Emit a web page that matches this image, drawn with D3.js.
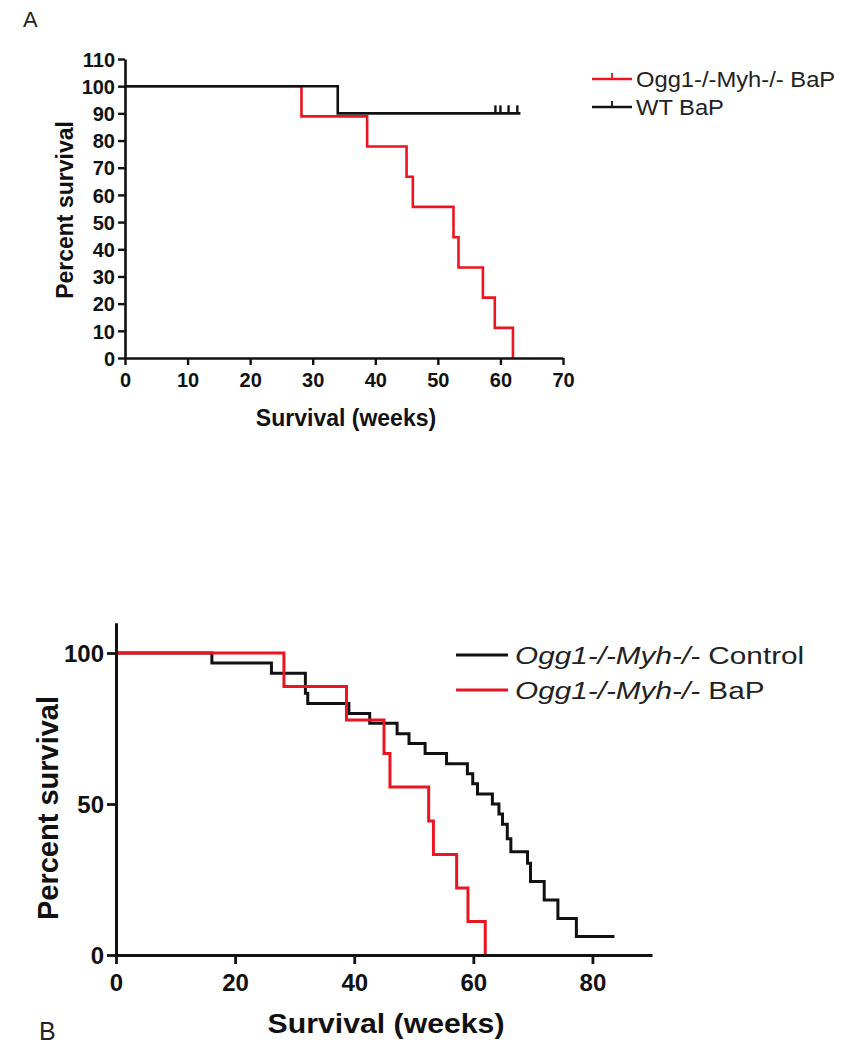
<!DOCTYPE html>
<html>
<head>
<meta charset="utf-8">
<script src="https://cdn.jsdelivr.net/npm/d3@7/dist/d3.min.js"></script>
<style>
html,body{margin:0;padding:0;background:#fff;}
svg{display:block;font-family:"Liberation Sans",Arial,sans-serif;}
</style>
</head>
<body>
<svg id="chart" width="849" height="1050"></svg>
<script>
// ---------- DATA ----------
// Panel A
const aXTicks = [0,10,20,30,40,50,60,70];
const aYTicks = [0,10,20,30,40,50,60,70,80,90,100,110];
// Ogg1-/-Myh-/- BaP : event times (weeks) and survival after event (%)
const bapTimes    = [28.2, 38.7, 45.0, 46.0, 52.5, 53.3, 57.2, 59.1, 62.0];
const bapSurvival = [88.9, 77.8, 66.7, 55.6, 44.4, 33.3, 22.2, 11.1, 0];
// WT BaP
const wtTimes    = [34.0];
const wtSurvival = [90];
const wtEnd      = 63.2;
const wtCensored = [59.2, 60.0, 61.3, 62.7];

// Panel B
const bXTicks = [0,20,40,60,80];
const bYTicks = [0,50,100];
// Ogg1-/-Myh-/- Control
const ctrlTimes    = [16.1, 26.1, 31.8, 32.2, 39.1, 42.6, 47.2, 49.2, 51.9, 55.5, 59.0, 59.9, 60.7, 63.2, 64.3, 64.9, 65.7, 66.3, 69.1, 69.6, 71.9, 74.2, 77.3];
const ctrlSurvival = [96.7, 93.3, 86.7, 83.3, 80.0, 76.7, 73.3, 70.0, 66.7, 63.3, 60.0, 56.7, 53.3, 50.0, 46.7, 43.3, 38.5, 34.2, 30.4, 24.3, 18.2, 12.1, 6.1];
const ctrlEnd      = 83.7;

const legendA = ["Ogg1-/-Myh-/- BaP", "WT BaP"];
const legendBItalic = "Ogg1-/-Myh-/-";
const legendBSuffix = [" Control", " BaP"];

const RED = "#ea1520";
const BLACK = "#111";

// ---------- HELPERS ----------
const svg = d3.select("#chart");
function kmPoints(times, surv, end){
  const pts = [[0,100]];
  times.forEach((t,i)=>pts.push([t, surv[i]]));
  if (end !== undefined) pts.push([end, surv[surv.length-1]]);
  return pts;
}
function survAt(times, surv, t){
  let s = 100;
  times.forEach((tt,i)=>{ if (tt <= t) s = surv[i]; });
  return s;
}

// ---------- PANEL A ----------
{
  const x = d3.scaleLinear().domain([0,70]).range([125,563]);
  const y = d3.scaleLinear().domain([0,110]).range([358,59]);
  const g = svg.append("g");

  g.append("text").attr("x",23).attr("y",27).attr("font-size",22).attr("fill","#222").text("A");

  const line = d3.line().x(d=>x(d[0])).y(d=>y(d[1])).curve(d3.curveStepAfter);

  g.append("path").datum(kmPoints(bapTimes,bapSurvival))
    .attr("d",line).attr("fill","none").attr("stroke",RED).attr("stroke-width",2.6);
  g.append("path").datum(kmPoints(wtTimes,wtSurvival,wtEnd))
    .attr("d",line).attr("fill","none").attr("stroke",BLACK).attr("stroke-width",2.6);
  g.selectAll(".cens").data(wtCensored).enter().append("line")
    .attr("x1",d=>x(d)).attr("x2",d=>x(d))
    .attr("y1",d=>y(survAt(wtTimes,wtSurvival,d)))
    .attr("y2",d=>y(survAt(wtTimes,wtSurvival,d))-8)
    .attr("stroke",BLACK).attr("stroke-width",2.4);

  const xa = g.append("g").attr("transform","translate(0,358)")
    .call(d3.axisBottom(x).tickValues(aXTicks).tickSize(7).tickPadding(8).tickSizeOuter(0));
  const ya = g.append("g").attr("transform","translate(125,0)")
    .call(d3.axisLeft(y).tickValues(aYTicks).tickSize(7).tickPadding(3).tickSizeOuter(0));
  [xa,ya].forEach(a=>{
    a.select(".domain").attr("stroke",BLACK).attr("stroke-width",2.6);
    a.selectAll(".tick line").attr("stroke",BLACK).attr("stroke-width",2.4);
    a.selectAll(".tick text").attr("font-size",20).attr("font-weight","bold").attr("fill","#111")
      .attr("font-family","'Liberation Sans',Arial,sans-serif");
  });
  ya.selectAll(".tick text").attr("dy","0.36em");

  g.append("text").attr("x",346).attr("y",426).attr("text-anchor","middle")
    .attr("font-size",23).attr("font-weight","bold").attr("fill","#111").text("Survival (weeks)");
  g.append("text").attr("transform","translate(73,210) rotate(-90)").attr("text-anchor","middle")
    .attr("font-size",23).attr("font-weight","bold").attr("fill","#111").text("Percent survival");

  // legend
  const cols = [RED, BLACK];
  legendA.forEach((lab,i)=>{
    const yy = 79 + i*28;
    g.append("line").attr("x1",592).attr("x2",632).attr("y1",yy).attr("y2",yy)
      .attr("stroke",cols[i]).attr("stroke-width",2.4);
    g.append("line").attr("x1",612).attr("x2",612).attr("y1",yy).attr("y2",yy-6)
      .attr("stroke",cols[i]).attr("stroke-width",1.8);
    g.append("text").attr("transform",`translate(636,${yy+8}) scale(1.08,1)`)
      .attr("font-size",22).attr("fill","#222").text(lab);
  });
}

// ---------- PANEL B ----------
{
  const x = d3.scaleLinear().domain([0,90]).range([116,652]);
  const y = d3.scaleLinear().domain([0,110]).range([955,622.8]);
  const g = svg.append("g");

  const line = d3.line().x(d=>x(d[0])).y(d=>y(d[1])).curve(d3.curveStepAfter);

  g.append("path").datum(kmPoints(ctrlTimes,ctrlSurvival,ctrlEnd))
    .attr("d",line).attr("fill","none").attr("stroke",BLACK).attr("stroke-width",3);
  g.append("path").datum(kmPoints(bapTimes,bapSurvival))
    .attr("d",line).attr("fill","none").attr("stroke",RED).attr("stroke-width",3);

  const xa = g.append("g").attr("transform","translate(0,955)")
    .call(d3.axisBottom(x).tickValues(bXTicks).tickSize(9).tickPadding(10).tickSizeOuter(0));
  const ya = g.append("g").attr("transform","translate(116,0)")
    .call(d3.axisLeft(y).tickValues(bYTicks).tickSize(9).tickPadding(3).tickSizeOuter(0));
  [xa,ya].forEach(a=>{
    a.select(".domain").attr("stroke",BLACK).attr("stroke-width",3);
    a.selectAll(".tick line").attr("stroke",BLACK).attr("stroke-width",2.8);
    a.selectAll(".tick text").attr("font-size",24).attr("font-weight","bold").attr("fill","#111")
      .attr("font-family","'Liberation Sans',Arial,sans-serif");
  });
  ya.selectAll(".tick text").attr("dy","0.36em");

  g.append("text").attr("transform","translate(386,1033) scale(1.12,1)").attr("text-anchor","middle")
    .attr("font-size",27).attr("font-weight","bold").attr("fill","#111").text("Survival (weeks)");
  g.append("text").attr("transform","translate(58,808) rotate(-90)").attr("text-anchor","middle")
    .attr("font-size",29).attr("font-weight","bold").attr("fill","#111").text("Percent survival");

  g.append("text").attr("x",39).attr("y",1040).attr("font-size",25).attr("fill","#222").text("B");

  // legend
  const cols = [BLACK, RED];
  legendBSuffix.forEach((suf,i)=>{
    const yy = 655 + i*35;
    g.append("line").attr("x1",456).attr("x2",508).attr("y1",yy).attr("y2",yy)
      .attr("stroke",cols[i]).attr("stroke-width",2.8);
    const t = g.append("text").attr("transform",`translate(515,${yy+9}) scale(1.24,1)`)
      .attr("font-size",24).attr("fill","#222");
    t.append("tspan").attr("font-style","italic").text(legendBItalic);
    t.append("tspan").text(suf);
  });
}
</script>
</body>
</html>
